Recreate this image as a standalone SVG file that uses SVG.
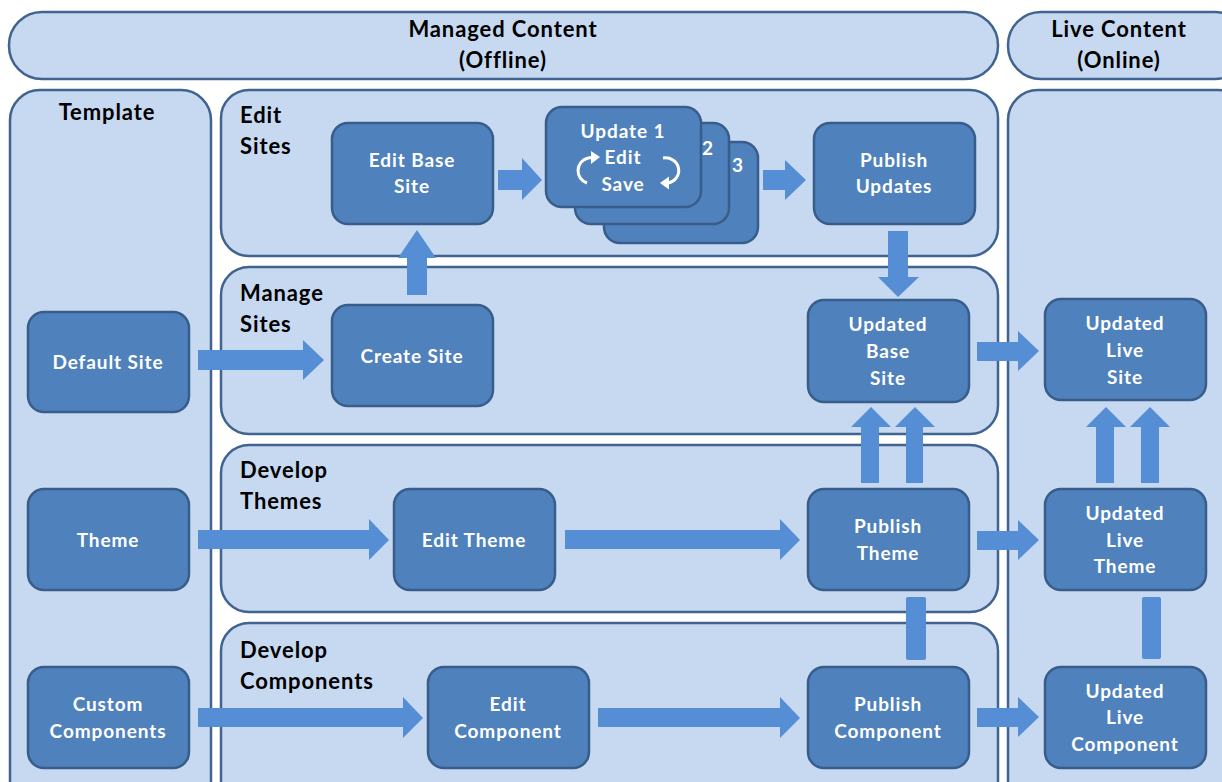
<svg xmlns="http://www.w3.org/2000/svg" width="1222" height="782" viewBox="0 0 1222 782">
<defs>
<style>
.panel{fill:#C6D9F1;stroke:#41638F;stroke-width:2.5}
.node{fill:#4F81BD;stroke:#385D8A;stroke-width:2.5}
.arr{fill:#558ED5}
.h{font-family:Lato,"Liberation Sans",sans-serif;font-weight:bold;font-size:22px;letter-spacing:0.9px;fill:#000}
.t{font-family:Lato,"Liberation Sans",sans-serif;font-weight:bold;font-size:19px;letter-spacing:0.9px;fill:#fff;text-anchor:middle}
.curv{fill:none;stroke:#fff;stroke-width:3}
</style>
</defs>
<rect width="1222" height="782" fill="#fff"/>
<g id="panels">
<rect id="managed-banner" class="panel" x="9" y="12" width="989" height="67" rx="33"/>
<rect id="live-banner" class="panel" x="1008" y="12" width="240" height="67" rx="33"/>
<rect id="template" class="panel" x="10" y="90" width="201" height="740" rx="30"/>
<rect id="edit-sites" class="panel" x="221" y="90" width="777" height="166" rx="28"/>
<rect id="manage-sites" class="panel" x="221" y="267" width="777" height="167" rx="28"/>
<rect id="develop-themes" class="panel" x="221" y="445" width="777" height="167" rx="28"/>
<rect id="develop-components" class="panel" x="221" y="623" width="777" height="200" rx="28"/>
<rect id="live" class="panel" x="1008" y="90" width="240" height="740" rx="30"/>
<text class="h" text-anchor="middle"><tspan x="503" y="37">Managed Content</tspan><tspan x="503" y="68">(Offline)</tspan></text>
<text class="h" text-anchor="middle"><tspan x="1119" y="37">Live Content</tspan><tspan x="1119" y="68">(Online)</tspan></text>
<text class="h" x="107" y="120" text-anchor="middle">Template</text>
<text class="h"><tspan x="240" y="123">Edit</tspan><tspan x="240" y="154">Sites</tspan></text>
<text class="h"><tspan x="240" y="301">Manage</tspan><tspan x="240" y="332">Sites</tspan></text>
<text class="h"><tspan x="240" y="478">Develop</tspan><tspan x="240" y="509">Themes</tspan></text>
<text class="h"><tspan x="240" y="658">Develop</tspan><tspan x="240" y="689">Components</tspan></text>
</g>
<g id="connectors">
<polygon class="arr" points="498,170 522,170 522,158 542,180 522,200 522,190 498,190"/>
<polygon class="arr" points="763,170 785,170 785,160 806,180 785,200 785,190 763,190"/>
<polygon class="arr" points="407,295 407,258 398,258 417,230 436,258 427,258 427,295"/>
<polygon class="arr" points="198,350 303,350 303,340 324,360 303,380 303,370 198,370"/>
<polygon class="arr" points="888,231 908,231 908,277 919,277 898,297 878,277 888,277"/>
<polygon class="arr" points="977,342 1018,342 1018,331 1039,351 1018,371 1018,361 977,361"/>
<polygon class="arr" points="861,483 861,427 851,427 871,407 891,427 879,427 879,483"/>
<polygon class="arr" points="906,483 906,427 895,427 915,407 935,427 923,427 923,483"/>
<polygon class="arr" points="1096,483 1096,427 1086,427 1106,407 1126,427 1114,427 1114,483"/>
<polygon class="arr" points="1141,483 1141,427 1130,427 1150,407 1170,427 1159,427 1159,483"/>
<polygon class="arr" points="198,530 369,530 369,519 389,540 369,560 369,549 198,549"/>
<polygon class="arr" points="565,530 780,530 780,519 800,540 780,560 780,549 565,549"/>
<polygon class="arr" points="198,708 403,708 403,697 423,718 403,738 403,727 198,727"/>
<polygon class="arr" points="598,708 780,708 780,697 800,718 780,738 780,727 598,727"/>
<polygon class="arr" points="977,531 1018,531 1018,520 1039,540 1018,560 1018,550 977,550"/>
<polygon class="arr" points="977,708 1018,708 1018,697 1039,717 1018,737 1018,727 977,727"/>
<rect class="arr" x="906" y="597" width="20" height="63" rx="2"/>
<rect class="arr" x="1142" y="597" width="19" height="62" rx="2"/>
</g>
<g id="default-site"><rect class="node" x="28" y="312" width="161" height="100" rx="16"/><text class="t" x="108" y="369">Default  Site</text></g>
<g id="theme"><rect class="node" x="28" y="489" width="161" height="101" rx="16"/><text class="t" x="108" y="547">Theme</text></g>
<g id="custom-components"><rect class="node" x="28" y="667" width="161" height="101" rx="16"/><text class="t"><tspan x="108" y="711">Custom</tspan><tspan x="108" y="738">Components</tspan></text></g>
<g id="edit-base-site"><rect class="node" x="332" y="123" width="161" height="101" rx="16"/><text class="t"><tspan x="412" y="167">Edit  Base</tspan><tspan x="412" y="193">Site</tspan></text></g>
<g id="create-site"><rect class="node" x="332" y="305" width="161" height="101" rx="16"/><text class="t" x="412" y="363">Create Site</text></g>
<g id="edit-theme"><rect class="node" x="394" y="489" width="161" height="101" rx="16"/><text class="t" x="474" y="547">Edit  Theme</text></g>
<g id="edit-component"><rect class="node" x="428" y="667" width="161" height="101" rx="16"/><text class="t"><tspan x="508" y="711">Edit</tspan><tspan x="508" y="738">Component</tspan></text></g>
<g id="update-stack">
<rect class="node" x="604" y="142" width="154" height="101" rx="16"/>
<rect class="node" x="575" y="123" width="154" height="101" rx="16"/>
<rect class="node" x="546" y="107" width="155" height="100" rx="16"/>
<text class="t" x="708" y="155">2</text>
<text class="t" x="738" y="172">3</text>
<text class="t"><tspan x="623" y="138">Update 1</tspan><tspan x="623" y="164">Edit</tspan><tspan x="623" y="191">Save</tspan></text>
<path class="curv" d="M587,183 A13,13 0 0 1 588,158 L592,157.5"/>
<polygon fill="#fff" points="591,151 600,157 591,164"/>
<path class="curv" d="M663,158 A13,12.5 0 0 1 668,183"/>
<polygon fill="#fff" points="669,176.5 660,183 669,189.5"/>
</g>
<g id="publish-updates"><rect class="node" x="814" y="123" width="161" height="101" rx="16"/><text class="t"><tspan x="894" y="167">Publish</tspan><tspan x="894" y="193">Updates</tspan></text></g>
<g id="updated-base-site"><rect class="node" x="808" y="300" width="161" height="102" rx="16"/><text class="t"><tspan x="888" y="331">Updated</tspan><tspan x="888" y="358">Base</tspan><tspan x="888" y="385">Site</tspan></text></g>
<g id="publish-theme"><rect class="node" x="808" y="489" width="161" height="101" rx="16"/><text class="t"><tspan x="888" y="533">Publish</tspan><tspan x="888" y="560">Theme</tspan></text></g>
<g id="publish-component"><rect class="node" x="808" y="667" width="161" height="101" rx="16"/><text class="t"><tspan x="888" y="711">Publish</tspan><tspan x="888" y="738">Component</tspan></text></g>
<g id="updated-live-site"><rect class="node" x="1045" y="299" width="161" height="101" rx="16"/><text class="t"><tspan x="1125" y="330">Updated</tspan><tspan x="1125" y="357">Live</tspan><tspan x="1125" y="384">Site</tspan></text></g>
<g id="updated-live-theme"><rect class="node" x="1045" y="489" width="161" height="101" rx="16"/><text class="t"><tspan x="1125" y="520">Updated</tspan><tspan x="1125" y="547">Live</tspan><tspan x="1125" y="573">Theme</tspan></text></g>
<g id="updated-live-component"><rect class="node" x="1045" y="667" width="161" height="101" rx="16"/><text class="t"><tspan x="1125" y="698">Updated</tspan><tspan x="1125" y="724">Live</tspan><tspan x="1125" y="751">Component</tspan></text></g>
</svg>
